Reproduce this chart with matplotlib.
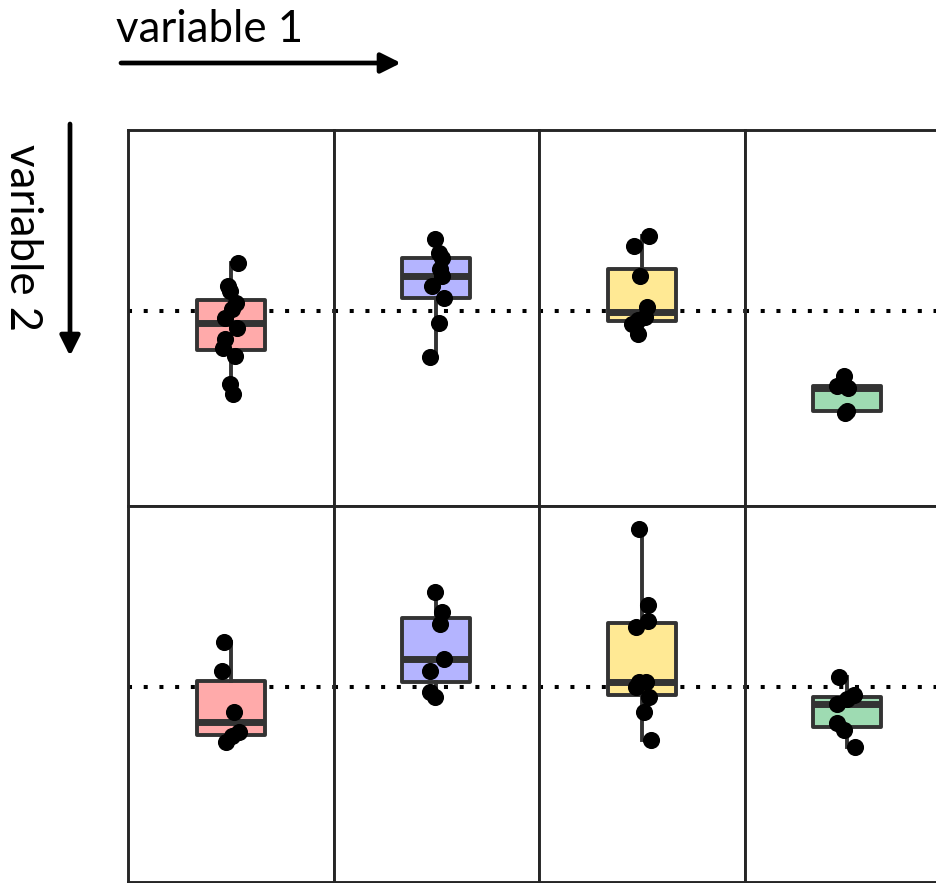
import matplotlib
matplotlib.use('Agg')
import matplotlib.pyplot as plt

# one list of y values and one of jitter offsets per panel (dotted line = 0)
groups = ['red', 'blue', 'yellow', 'green']
box_colors = ['#ffaaaa', '#b4b4ff', '#ffe994', '#9edbb2']

red_top = [0.48, 0.25, 0.20, 0.08, 0.02, -0.07, -0.17, -0.28, -0.37, -0.45, -0.73, -0.83]
red_top_x = [0.037, -0.012, -0.004, 0.027, 0.004, -0.028, 0.028, -0.028, -0.036, 0.021, -0.004, 0.012]
blue_top = [0.72, 0.58, 0.53, 0.42, 0.35, 0.25, 0.13, -0.12, -0.46]
blue_top_x = [-0.005, 0.011, 0.028, 0.02, 0.028, -0.021, 0.036, 0.011, -0.029]
yellow_top = [0.75, 0.65, 0.35, 0.04, -0.06, -0.09, -0.13, -0.23]
yellow_top_x = [0.033, -0.04, -0.007, 0.025, 0.017, -0.016, -0.048, -0.016]
green_top = [-0.65, -0.75, -0.77, -1.00, -1.02]
green_top_x = [-0.018, -0.05, 0.006, -0.001, -0.01]

red_bot = [0.45, 0.16, -0.25, -0.45, -0.49, -0.55]
red_bot_x = [-0.035, -0.043, 0.014, 0.038, 0.007, -0.023]
blue_bot = [0.95, 0.75, 0.63, 0.28, 0.16, -0.05, -0.10]
blue_bot_x = [-0.005, 0.028, 0.02, 0.036, -0.029, -0.029, -0.005]
yellow_bot = [1.58, 0.82, 0.66, 0.60, 0.05, 0.05, 0.0, -0.10, -0.25, -0.53]
yellow_bot_x = [-0.012, 0.028, 0.028, -0.028, -0.012, 0.02, -0.028, 0.036, 0.012, 0.045]
green_bot = [0.10, -0.08, -0.12, -0.17, -0.36, -0.43, -0.60]
green_bot_x = [-0.042, 0.031, -0.001, -0.05, -0.05, -0.018, 0.039]

rows = [
    [(red_top, red_top_x), (blue_top, blue_top_x), (yellow_top, yellow_top_x), (green_top, green_top_x)],
    [(red_bot, red_bot_x), (blue_bot, blue_bot_x), (yellow_bot, yellow_bot_x), (green_bot, green_bot_x)],
]

W, H = 936, 883
fig = plt.figure(figsize=(W / 100, H / 100), dpi=100)
font = ['Lato', 'DejaVu Sans']

left0, top0 = 128, 130
pw, ph = 205.5, 376
edge = '#333333'

for r, row in enumerate(rows):
    for c, (vals, xs) in enumerate(row):
        ax = fig.add_axes([(left0 + c * pw) / W, 1 - (top0 + (r + 1) * ph) / H, pw / W, ph / H])
        ax.set_xlim(-0.5, 0.5)
        ax.set_ylim(-1.95, 1.81)
        ax.axhline(0, color='black', lw=2.9, ls=(0, (1, 2.9)), dash_capstyle='butt', zorder=1)
        ax.boxplot(vals, positions=[0], widths=0.33, patch_artist=True, showcaps=False,
                   showfliers=False, whis=1.5,
                   boxprops=dict(facecolor=box_colors[c], edgecolor=edge, lw=2.8, joinstyle='round'),
                   whiskerprops=dict(color=edge, lw=2.8),
                   medianprops=dict(color=edge, lw=5, solid_capstyle='butt'),
                   zorder=2)
        ax.plot(xs, vals, 'o', color='black', ms=11.3, zorder=3)
        ax.set_xticks([])
        ax.set_yticks([])
        for s in ax.spines.values():
            s.set_color('#262626')
            s.set_linewidth(2.1)

# overlay for the axis-direction annotations
ov = fig.add_axes([0, 0, 1, 1], zorder=10)
ov.set_xlim(0, W)
ov.set_ylim(H, 0)
ov.axis('off')
ov.patch.set_alpha(0)

arrow = dict(arrowstyle='-|>,head_length=0.6,head_width=0.3', lw=3.4, color='black',
             shrinkA=0, shrinkB=0, mutation_scale=20)
ov.annotate('', xy=(401, 63), xytext=(121, 63), arrowprops=arrow)
ov.annotate('', xy=(70, 356), xytext=(70, 124), arrowprops=arrow)
ov.text(210, 42, 'variable 1', fontsize=31.5, family=font, ha='center', va='baseline')
ov.text(22, 237, 'variable 2', fontsize=31.5, family=font, ha='center', va='center', rotation=270)

fig.savefig('out.png', dpi=100)
